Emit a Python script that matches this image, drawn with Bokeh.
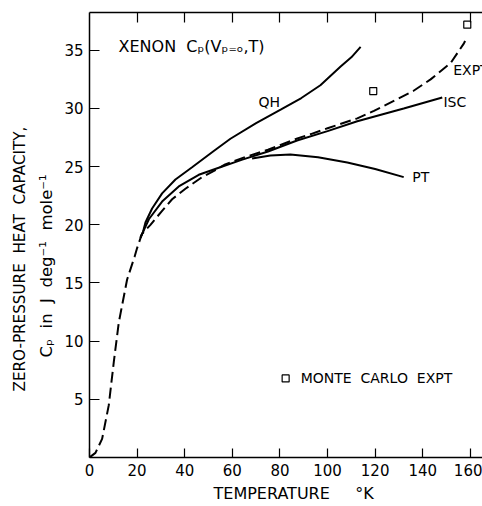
from bokeh.plotting import figure
from bokeh.models import Range1d, LinearAxis, FixedTicker, ColumnDataSource, Title
from bokeh.core.properties import value
from bokeh.embed import file_html
from bokeh.resources import INLINE

FONT = "DejaVu Sans"
SP = "\u00a0"

# --- data ---
expt_T = [0, 2.5, 5.3, 8.1, 10.2, 12.3, 15.8, 19.0, 20.0, 22.0, 25.6, 30.5, 34.7, 40.3, 47.3, 52.9, 57.0,
          65.0, 75.0, 87.0, 93.0, 100.0, 112.5, 119.5, 129.3, 136.0, 143.3, 151.7, 157.3, 157.8]
expt_Cp = [0, 0.4, 1.6, 4.5, 8.2, 11.6, 15.3, 17.3, 18.0, 19.2, 20.0, 21.2, 22.2, 23.1, 24.1, 24.7, 25.2,
           25.8, 26.45, 27.4, 27.8, 28.3, 29.15, 29.8, 30.8, 31.5, 32.5, 33.9, 35.6, 35.8]

isc_T = [21.4, 22.5, 25.0, 30.5, 37.5, 45.9, 54.3, 64.2, 75.0, 87.2, 100.0, 112.5, 132.0, 148.2]
isc_Cp = [18.9, 19.4, 20.5, 22.0, 23.3, 24.3, 24.9, 25.6, 26.3, 27.25, 28.05, 28.9, 30.0, 30.95]

qh_T = [21.4, 22.5, 23.5, 26.3, 30.5, 36.1, 43.1, 52.2, 59.2, 70.0, 80.3, 89.0, 97.0, 105.5, 110.0, 113.9]
qh_Cp = [18.9, 19.4, 20.2, 21.4, 22.7, 23.9, 24.95, 26.35, 27.4, 28.75, 29.9, 30.9, 32.0, 33.6, 34.4, 35.3]

pt_T = [68.3, 76.0, 84.4, 96.0, 108.3, 120.0, 132.0]
pt_Cp = [25.7, 25.95, 26.05, 25.8, 25.35, 24.8, 24.1]

mc_T = [119.2, 158.7]
mc_Cp = [31.5, 37.2]
legend_T = [82.4]
legend_Cp = [6.8]

x_ticks = [0, 20, 40, 60, 80, 100, 120, 140, 160]
y_ticks = [5, 10, 15, 20, 25, 30, 35]

curve_names = ["QH", "ISC", "EXPT", "PT"]
curve_label_T = [71.0, 148.7, 152.8, 135.6]
curve_label_Cp = [30.6, 30.6, 33.35, 24.1]

p = figure(width=482, height=506, output_backend="svg", toolbar_location=None,
           x_range=Range1d(0, 165.1), y_range=Range1d(0, 38.25),
           min_border_left=89, min_border_right=0, min_border_top=12, min_border_bottom=0)
p.outline_line_color = None
p.grid.visible = False
p.background_fill_color = "white"
p.border_fill_color = "white"

# axes
xa = p.xaxis[0]
xa.ticker = FixedTicker(ticks=x_ticks)
xa.major_tick_in = 9
xa.major_tick_out = 0
xa.minor_tick_line_color = None
xa.axis_line_width = 1.5
xa.major_tick_line_width = 1.2
xa.major_label_text_font = FONT
xa.major_label_text_font_size = "15px"
xa.major_label_text_color = "black"
xa.major_label_standoff = 6
xa.axis_label = None
xa.axis_label_standoff = 0

ya = p.yaxis[0]
ya.ticker = FixedTicker(ticks=y_ticks)
ya.major_tick_in = 10
ya.major_tick_out = 0
ya.minor_tick_line_color = None
ya.axis_line_width = 1.5
ya.major_tick_line_width = 1.2
ya.major_label_text_font = FONT
ya.major_label_text_font_size = "15px"
ya.major_label_text_color = "black"
ya.major_label_standoff = 6
ya.axis_label = None
ya.axis_label_standoff = 0

top = LinearAxis(ticker=FixedTicker(ticks=x_ticks[1:]), major_tick_in=10, major_tick_out=0,
                 minor_tick_line_color=None, major_label_overrides={t: "" for t in x_ticks},
                 major_label_standoff=0, axis_line_width=1.5, major_tick_line_width=1.2,
                 axis_label=None, axis_label_standoff=0)
p.add_layout(top, "above")

# x-axis title
xt = Title(text="TEMPERATURE" + SP * 5 + "\u00b0K", align="left", offset=124, standoff=7,
           text_font=FONT, text_font_size="16px", text_font_style="normal", text_color="black")
p.add_layout(xt, "below")

# y-axis title, two lines
t2 = Title(text="C\u209a" + SP * 2 + "in" + SP * 2 + "J" + SP * 2 + "deg\u207b\u00b9" + SP * 2 + "mole\u207b\u00b9",
           align="left", offset=100, standoff=12, text_font=FONT, text_font_size="16.5px",
           text_font_style="normal", text_color="black")
t1 = Title(text="ZERO-PRESSURE" + SP * 2 + "HEAT" + SP * 2 + "CAPACITY,",
           align="left", offset=66, standoff=0, text_font=FONT, text_font_size="15.2px",
           text_font_style="normal", text_color="black")
p.add_layout(t2, "left")
p.add_layout(t1, "left")

# curves
p.line(qh_T, qh_Cp, line_color="black", line_width=2)
p.line(isc_T, isc_Cp, line_color="black", line_width=2)
p.line(pt_T, pt_Cp, line_color="black", line_width=2)
p.line(expt_T, expt_Cp, line_color="black", line_width=2, line_dash="11 5")

# Monte Carlo squares
p.scatter(mc_T, mc_Cp, marker="square", size=7, fill_color="white", line_color="black", line_width=1.2)
p.scatter(legend_T, legend_Cp, marker="square", size=7, fill_color="white", line_color="black", line_width=1.2)

src = ColumnDataSource(dict(x=curve_label_T, y=curve_label_Cp, t=curve_names))
p.text("x", "y", text="t", source=src, text_font=value(FONT), text_font_size="14px",
       text_baseline="middle", text_align="left", text_color="black")

p.text([88.7], [6.8], text=["MONTE" + SP * 2 + "CARLO" + SP * 2 + "EXPT"], text_font=value(FONT),
       text_font_size="14px", text_baseline="middle", text_align="left", text_color="black")
p.text([12.2], [35.3], text=["XENON" + SP * 2 + "C\u209a(V\u209a\u208c\u2092,T)"], text_font=value(FONT),
       text_font_size="16px", text_baseline="middle", text_align="left", text_color="black")

open("out.html", "w").write(file_html(p, INLINE))
